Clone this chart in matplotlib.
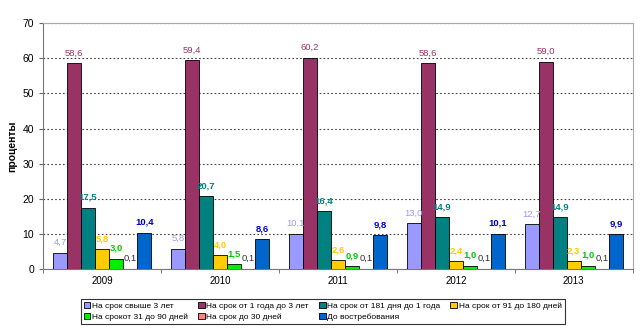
import matplotlib
matplotlib.use("Agg")
import matplotlib.pyplot as plt
import numpy as np

plt.rcParams['font.family'] = ['Liberation Sans', 'DejaVu Sans']

years = ['2009', '2010', '2011', '2012', '2013']
series_names = ['На срок свыше 3 лет', 'На срок от 1 года до 3 лет', 'На срок от 181 дня до 1 года',
                'На срок от 91 до 180 дней', 'На срокот 31 до 90 дней', 'На срок до 30 дней',
                'До востребования']
s1 = [4.7, 5.8, 10.1, 13.0, 12.7]
s2 = [58.6, 59.4, 60.2, 58.6, 59.0]
s3 = [17.5, 20.7, 16.4, 14.9, 14.9]
s4 = [5.8, 4.0, 2.6, 2.4, 2.3]
s5 = [3.0, 1.5, 0.9, 1.0, 1.0]
s6 = [0.1, 0.1, 0.1, 0.1, 0.1]
s7 = [10.4, 8.6, 9.8, 10.1, 9.9]
series = [s1, s2, s3, s4, s5, s6, s7]

colors = ['#9999FF', '#993366', '#008080', '#FFCC00', '#00EE00', '#FF8080', '#0066CC']
label_colors = ['#9999FF', '#993366', '#008080', '#FFCC00', '#00CC00', '#333333', '#0000CC']
label_weights = ['normal', 'normal', 'bold', 'bold', 'bold', 'normal', 'bold']

fig = plt.figure(figsize=(6.43, 3.31), dpi=100)
ax = fig.add_axes([0.067, 0.187, 0.917, 0.743])

n = len(series)
bw = 0.119
x = np.arange(len(years))
for i, (vals, c) in enumerate(zip(series, colors)):
    pos = x + (i - (n - 1) / 2) * bw
    ax.bar(pos, vals, width=bw, color=c, edgecolor='black', linewidth=0.6, zorder=3,
           label=series_names[i])
    for p, v in zip(pos, vals):
        ax.text(p, v + 1.6, f"{v:.1f}".replace('.', ','), ha='center', va='bottom',
                fontsize=6.8, color=label_colors[i], fontweight=label_weights[i], zorder=4)

ax.set_xlim(-0.5, len(years) - 0.5)
ax.set_ylim(0, 70)
ax.set_yticks(range(0, 71, 10))
ax.set_xticks(x)
ax.set_xticklabels(years)
ax.set_xticks(np.arange(-0.5, len(years)), minor=True)
ax.tick_params(axis='x', which='major', length=0, labelsize=7, pad=5)
ax.tick_params(axis='x', which='minor', length=3, direction='out', color='#666666')
ax.tick_params(axis='y', labelsize=7.5, length=3, color='#666666')
ax.yaxis.grid(True, linestyle=(0, (1.5, 2)), color='#444444', linewidth=0.8, zorder=0)
ax.set_axisbelow(True)
for side in ['top', 'right']:
    ax.spines[side].set_color('#AAAAAA')
for side in ['left', 'bottom']:
    ax.spines[side].set_color('#777777')
ax.set_ylabel('проценты', fontsize=7.5, fontweight='bold')

handles, labels = ax.get_legend_handles_labels()
order = [0, 4, 1, 5, 2, 6, 3]
leg = fig.legend([handles[i] for i in order], [labels[i] for i in order],
                 loc='center', bbox_to_anchor=(0.502, 0.060), ncol=4,
                 fontsize=6.0, frameon=True, fancybox=False, edgecolor='black',
                 handlelength=0.8, handleheight=0.8, handletextpad=0.2,
                 columnspacing=1.2, borderpad=0.35, labelspacing=0.35)
leg.get_frame().set_linewidth(0.8)

fig.savefig('out.png', dpi=100)
